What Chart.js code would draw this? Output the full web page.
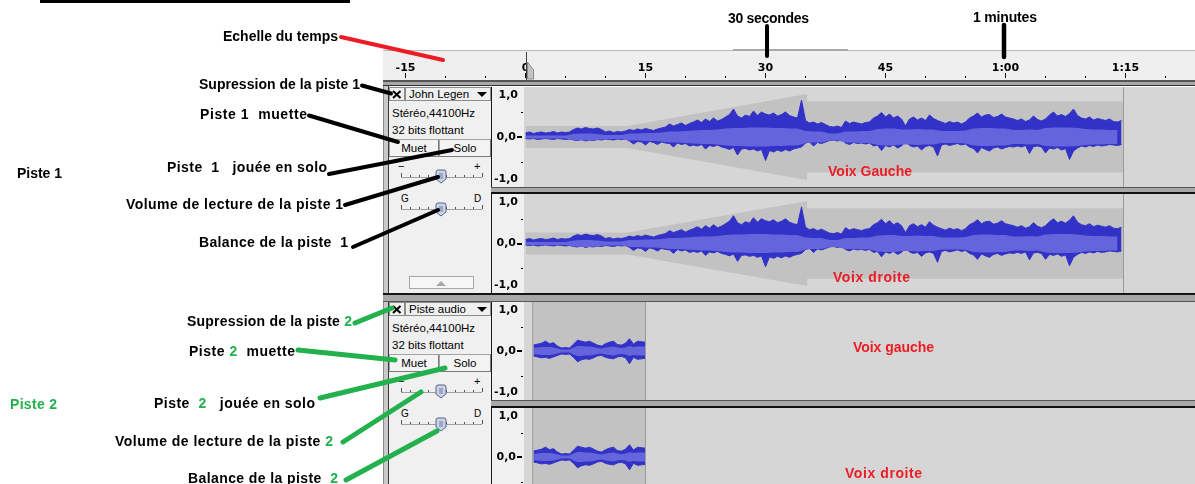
<!DOCTYPE html>
<html lang="fr"><head><meta charset="utf-8"><title>Audacity – pistes annotées</title>
<script src="https://cdn.jsdelivr.net/npm/chart.js@4.4.1/dist/chart.umd.min.js"></script>
<style>
html,body{margin:0;padding:0;background:#fff;}
body{position:relative;width:1195px;height:484px;overflow:hidden;font-family:"Liberation Sans",Arial,sans-serif;}
.a{position:absolute;box-sizing:border-box;}
canvas.c{position:absolute;display:block;z-index:1;}
.ui{font-size:11.5px;color:#000;white-space:nowrap;line-height:14px;}
.btn{background:#f3f3f3;border:1px solid #a4a4a4;border-right-color:#7a7a7a;border-bottom-color:#7a7a7a;text-align:center;font-size:11.5px;line-height:16px;}
#ann{position:absolute;left:0;top:0;z-index:10;overflow:visible;}
</style></head><body>
<svg id="ann" width="1195" height="484" xmlns="http://www.w3.org/2000/svg"></svg>
<script>
// ================= DATA =================
// time ruler (seconds)
const rulerTickValues = [-15,-10,-5,0,5,10,15,20,25,30,35,40,45,50,55,60,65,70,75,80];
const rulerTickLabels = ['-15','','','0','','','15','','','30','','','45','','','1:00','','','1:15',''];
// amplitude ruler
const ampAxisLabels = ['1,0','0,0','-1,0'];
const ampAxisMinor = [0.5,-0.5];

// Track 1 "John Legen" (both channels look the same)
const t1PeakStep = 0.5;   // s between peak samples
const t1PeakMax = [0.08,0.10,0.07,0.09,0.10,0.08,0.09,0.11,0.08,0.10,0.09,0.10,
 0.15,0.18,0.16,0.19,0.17,0.16,0.18,0.15,
 0.10,0.12,0.09,0.11,0.10,0.12,
 0.15,0.13,0.16,0.14,0.17,0.15,0.13,0.16,0.18,0.20,
 0.26,0.22,0.25,0.28,0.23,0.27,
 0.30,0.34,0.29,0.36,0.31,0.38,0.32,0.35,
 0.40,0.45,0.56,0.42,0.38,0.44,
 0.41,0.52,0.43,0.50,0.46,
 0.44,0.48,0.42,0.45,0.50,0.43,0.40,0.38,
 0.74,
 0.33,0.28,0.30,0.26,0.29,0.25,
 0.21,0.20,0.22,0.19,
 0.32,0.27,0.30,0.28,0.26,0.29,0.30,
 0.38,0.42,0.49,0.40,0.46,0.38,0.42,0.36,
 0.22,
 0.36,0.40,0.34,0.38,0.33,0.44,0.37,0.33,
 0.30,0.27,0.31,0.28,0.30,0.26,0.30,
 0.38,0.42,0.48,0.40,0.44,0.45,0.39,0.41,0.46,0.40,0.38,0.36,
 0.33,0.36,0.31,0.34,0.42,0.35,0.32,0.36,
 0.44,0.50,0.42,0.45,0.41,0.47,0.56,0.43,
 0.38,0.36,0.40,0.34,0.37,0.35,0.33,0.36,0.31,0.30,0.33];
const t1PeakMin = [-0.03,-0.04,-0.03,-0.05,-0.04,-0.03,-0.04,-0.05,-0.03,-0.04,-0.05,-0.04,
 -0.06,-0.07,-0.05,-0.08,-0.06,-0.07,-0.05,-0.06,
 -0.04,-0.05,-0.06,-0.04,-0.05,-0.04,
 -0.08,-0.14,-0.09,-0.10,-0.16,-0.09,-0.11,-0.15,-0.10,-0.12,
 -0.13,-0.20,-0.12,-0.15,-0.13,-0.18,
 -0.16,-0.18,-0.15,-0.24,-0.17,-0.19,-0.16,-0.20,
 -0.22,-0.25,-0.21,-0.36,-0.24,-0.23,
 -0.26,-0.24,-0.28,-0.25,-0.47,
 -0.27,-0.30,-0.26,-0.29,-0.25,-0.28,-0.24,-0.22,
 -0.20,
 -0.12,-0.10,-0.18,-0.11,-0.13,-0.10,
 -0.07,-0.06,-0.08,-0.06,
 -0.12,-0.15,-0.11,-0.13,-0.12,-0.14,-0.12,
 -0.18,-0.16,-0.27,-0.17,-0.20,-0.16,-0.22,-0.18,
 -0.08,
 -0.17,-0.20,-0.18,-0.26,-0.19,-0.17,-0.20,-0.38,
 -0.16,-0.14,-0.17,-0.15,-0.13,-0.16,-0.14,
 -0.20,-0.23,-0.32,-0.21,-0.25,-0.28,-0.22,-0.20,-0.24,-0.21,-0.19,-0.20,
 -0.18,-0.20,-0.17,-0.33,-0.19,-0.18,-0.20,-0.32,
 -0.22,-0.24,-0.21,-0.26,-0.23,-0.45,-0.28,-0.22,
 -0.18,-0.20,-0.17,-0.19,-0.16,-0.18,-0.17,-0.15,-0.16,-0.17,-0.15];
const t1RmsStep = 1;
const t1Rms = [0.03,0.03,0.03,0.03,0.03,0.03,
 0.06,0.07,0.07,0.06,
 0.04,0.04,0.04,
 0.07,0.07,0.08,0.08,0.09,
 0.11,0.11,0.12,
 0.13,0.14,0.14,0.15,
 0.17,0.18,0.18,0.19,0.19,
 0.19,0.18,0.18,0.17,0.17,
 0.12,0.11,0.11,
 0.07,0.07,
 0.11,0.11,0.12,0.12,
 0.16,0.17,0.17,0.15,
 0.15,0.16,0.15,0.15,
 0.12,0.12,0.12,0.13,
 0.17,0.18,0.18,0.17,0.17,
 0.14,0.14,0.15,0.14,
 0.18,0.19,0.19,0.19,0.18,
 0.16,0.15,0.15,0.14,0.14];
const t1EnvTimes  = [0, 12.7, 35.2, 35.2, 74.75];
const t1EnvLevels = [0.22, 0.22, 0.86, 0.71, 0.71];
const t1ClipEnd = 74.75;

// Track 2 "Piste audio"
const t2Start = 1.0, t2Step = 0.5;
const t2PeakMax = [0.12,0.14,0.16,0.20,0.15,0.17,0.10,0.06,0.07,0.06,0.14,0.22,0.20,0.18,0.20,0.16,0.12,0.10,0.15,0.18,0.20,0.13,0.12,0.16,0.25,0.14,0.20,0.19,0.18];
const t2PeakMin = [-0.10,-0.12,-0.14,-0.13,-0.15,-0.12,-0.09,-0.06,-0.07,-0.06,-0.13,-0.22,-0.18,-0.16,-0.17,-0.14,-0.10,-0.09,-0.13,-0.15,-0.16,-0.12,-0.11,-0.14,-0.26,-0.13,-0.17,-0.16,-0.15];
const t2Rms = [0.06,0.07,0.08,0.08,0.08,0.07,0.05,0.03,0.03,0.03,0.07,0.10,0.10,0.09,0.09,0.08,0.06,0.05,0.07,0.08,0.09,0.07,0.06,0.07,0.10,0.08,0.09,0.09,0.09];
const t2ClipStart = 0.9, t2ClipEnd = 15.0;

const trackNames = ['John Legen', 'Piste audio'];
const trackInfo = ['Stéréo,44100Hz', '32 bits flottant'];

// ================= LAYOUT / STYLE =================
const ZERO_X = 525.5, PX_PER_S = 8;
const PEAK = '#3232c8', RMS = '#6464dc', BAND = '#c2c2c2', WBG = '#d6d6d6', EDGE = '#9a9a9a';
const RULER_FONT = {family:'DejaVu Sans', weight:'bold', size:11};
Chart.defaults.font.family = 'DejaVu Sans';

function box(x,y,w,h,css,txt,cls){
  const d=document.createElement('div');
  d.className='a '+(cls||'');
  d.style.cssText=`left:${x}px;top:${y}px;width:${w}px;height:${h}px;`+(css||'');
  if(txt!==undefined) d.textContent=txt;
  document.body.appendChild(d); return d;
}
function mkCanvas(x,y,w,h){
  const c=document.createElement('canvas'); c.className='c';
  c.width=w; c.height=h; c.style.left=x+'px'; c.style.top=y+'px';
  c.style.width=w+'px'; c.style.height=h+'px';
  document.body.appendChild(c); return c;
}
const tOf = px => (px-ZERO_X)/PX_PER_S;

// ---------- static chrome ----------
box(40,0,310,3,'background:#000;');
box(383,50,812,1,'background:#b8b8b8;');
box(733,49,115,2,'background:#a9a9a9;');
box(383,80,812,6,'background:#a8a8a8;border-top:2px solid #555;border-bottom:1px solid #333;');
box(383,86,6,398,'background:#c9c9c9;border-left:1px solid #8c8c8c;border-right:1px solid #3a3a3a;');
box(389,86,102,207,'background:#f0f0f0;');
box(389,302,102,182,'background:#f0f0f0;');
box(383,293,812,9,'background:#a8a8a8;border-top:2px solid #151515;border-bottom:1px solid #555;');
box(491,187,704,7,'background:#a8a8a8;border-top:1px solid #555;border-bottom:2px solid #111;');
box(491,400,704,8,'background:#a8a8a8;border-top:1px solid #555;border-bottom:2px solid #111;');

[0,215].forEach((dy,k)=>{
  const T=87+dy;
  box(389,T,16,14,'background:#f0f0f0;border:1px solid #8c8c8c;');
  box(405,T,86,14,'background:#f0f0f0;border:1px solid #8c8c8c;');
  box(409,T,66,14,'',trackNames[k],'ui');
  box(392,T+19,98,14,'',trackInfo[0],'ui');
  box(392,T+36,98,14,'',trackInfo[1],'ui');
  box(389,T+52,50,18,'','Muet','btn');
  box(439,T+52,52,18,'','Solo','btn');
  box(398,T+73,10,12,'font-size:11px;line-height:12px;','−','ui');
  box(474,T+73,10,12,'font-size:11px;line-height:12px;','+','ui');
  box(401,T+106,10,12,'font-size:10px;line-height:12px;','G','ui');
  box(474,T+106,10,12,'font-size:10px;line-height:12px;','D','ui');
});
box(409,276,65,13,'background:#f6f6f6;border:1px solid #a8a8a8;');

// ---------- time ruler (Chart.js axis) ----------
const rulerChrome = {
  id:'rulerChrome',
  beforeDraw(ch){ const c=ch.ctx; c.save(); c.fillStyle='#efefef'; c.fillRect(0,0,ch.width,ch.height); c.restore(); },
  afterDraw(ch){
    const c=ch.ctx, x0=Math.round(ch.scales.x.getPixelForValue(0))+0.5;
    c.save();
    c.strokeStyle='#3c3c3c'; c.lineWidth=1;
    c.beginPath(); c.moveTo(x0,1); c.lineTo(x0,ch.height); c.stroke();
    c.fillStyle='#c4c4c4'; c.strokeStyle='#8a8a8a';
    c.beginPath(); c.moveTo(x0+1,11); c.lineTo(x0+7,19); c.lineTo(x0+7,28); c.lineTo(x0+1,28); c.closePath(); c.fill(); c.stroke();
    c.restore();
  }
};
new Chart(mkCanvas(383,51,812,29), {
  type:'line', data:{datasets:[]},
  options:{animation:false, responsive:false, events:[], layout:{padding:{bottom:2}},
    plugins:{legend:{display:false}, tooltip:{enabled:false}},
    scales:{
      x:{type:'linear', position:'top', min:tOf(383), max:tOf(1195), bounds:'data',
        afterBuildTicks(s){ s.ticks = rulerTickValues.map(v=>({value:v})); },
        afterFit(s){ s.height = 25; },
        ticks:{autoSkip:false, maxRotation:0, padding:-2, color:'#000', font:RULER_FONT,
          callback:(v)=>{ const i=rulerTickValues.indexOf(v); return i<0?'':rulerTickLabels[i]; }},
        grid:{drawOnChartArea:true, tickLength:3, color:'#000', lineWidth:1,
          tickColor:(c)=> (c.tick && c.tick.value%15===0) ? '#000' : 'rgba(0,0,0,0)'},
        border:{display:false}},
      y:{display:false, min:0, max:1}
    }},
  plugins:[rulerChrome]
});

// ---------- waveform channels ----------
const waveChrome = {
  id:'waveChrome',
  beforeDraw(ch){
    const c=ch.ctx, a=ch.chartArea;
    c.save();
    c.fillStyle='#f0f0f0'; c.fillRect(0,0,a.left,ch.height);
    c.fillStyle=WBG; c.fillRect(a.left,0,ch.width-a.left,ch.height);
    c.fillStyle='#1a1a1a'; c.fillRect(0,0,1,ch.height);
    c.restore();
  },
  afterDraw(ch){
    const c=ch.ctx, a=ch.chartArea, y=ch.scales.y;
    c.save();
    c.font='bold 11px "DejaVu Sans"'; c.fillStyle='#000'; c.textAlign='right'; c.textBaseline='middle';
    c.fillText(ampAxisLabels[0], a.left-6, y.getPixelForValue(1)+8);
    c.fillText(ampAxisLabels[1], a.left-8, y.getPixelForValue(0));
    c.fillText(ampAxisLabels[2], a.left-6, y.getPixelForValue(-1)-8);
    c.fillRect(a.left-7, Math.round(y.getPixelForValue(0))-1, 5, 2);
    ampAxisMinor.forEach(v=>c.fillRect(a.left-3, Math.round(y.getPixelForValue(v)), 2, 1));
    c.restore();
  }
};
function pts(times, vals){ return vals.map((v,i)=>({x:times[i], y:v})); }
function grid(start, step, n){ return Array.from({length:n},(_,i)=>start+i*step); }
function line(data, extra){ return Object.assign({data, pointRadius:0, borderWidth:1, borderColor:'rgba(0,0,0,0)', fill:false, tension:0}, extra); }

function waveChart(x,y,w,h,s){
  const ds=[
    line(s.envTop,{fill:'+1', backgroundColor:BAND, order:4}),
    line(s.envBot,{order:4}),
    line(s.peakTop,{fill:'+1', backgroundColor:PEAK, borderColor:PEAK, order:3}),
    line(s.peakBot,{borderColor:PEAK, order:3}),
    line(s.rmsTop,{fill:'+1', backgroundColor:RMS, order:2}),
    line(s.rmsBot,{order:2})
  ];
  s.edges.forEach(e=>ds.push(line([{x:e,y:-1},{x:e,y:1}],{borderColor:EDGE, order:1})));
  new Chart(mkCanvas(x,y,w,h), {
    type:'line', data:{datasets:ds},
    options:{animation:false, responsive:false, events:[], layout:{padding:0},
      plugins:{legend:{display:false}, tooltip:{enabled:false}},
      scales:{
        x:{type:'linear', display:false, min:tOf(524), max:tOf(1195)},
        y:{min:-1, max:1, afterFit(sc){ sc.width=33; }, ticks:{display:false}, grid:{display:false}, border:{display:false}}
      }},
    plugins:[waveChrome]
  });
}

const t1PeakT = grid(0, t1PeakStep, t1PeakMax.length);
const t1RmsT  = grid(0, t1RmsStep, t1Rms.length);
const track1 = {
  envTop: pts(t1EnvTimes, t1EnvLevels),
  envBot: pts(t1EnvTimes, t1EnvLevels.map(v=>-v)),
  peakTop: pts(t1PeakT, t1PeakMax),
  peakBot: pts(t1PeakT, t1PeakMin),
  rmsTop: pts(t1RmsT, t1Rms),
  rmsBot: pts(t1RmsT, t1Rms.map(v=>-v)),
  edges: [t1ClipEnd]
};
const t2T = grid(t2Start, t2Step, t2PeakMax.length);
const track2 = {
  envTop: pts([t2ClipStart,t2ClipEnd],[1,1]),
  envBot: pts([t2ClipStart,t2ClipEnd],[-1,-1]),
  peakTop: pts(t2T, t2PeakMax),
  peakBot: pts(t2T, t2PeakMin),
  rmsTop: pts(t2T, t2Rms),
  rmsBot: pts(t2T, t2Rms.map(v=>-v)),
  edges: [t2ClipStart, t2ClipEnd]
};
waveChart(491,87,704,100,track1);
waveChart(491,194,704,99,track1);
waveChart(491,302,704,98,track2);
waveChart(491,408,704,98,track2);

// ---------- SVG: control glyphs + annotations ----------
const BLACK='#000', GREEN='#22b14c', RED='#ed1c24';
let s='';
[0,215].forEach((dy,k)=>{
  const T=87+dy;
  s+=`<line x1="393" y1="${T+4}" x2="400.5" y2="${T+11}" stroke="#000" stroke-width="2"/>`;
  s+=`<line x1="400.5" y1="${T+4}" x2="393" y2="${T+11}" stroke="#000" stroke-width="2"/>`;
  s+=`<polygon points="477,${T+5} 487,${T+5} 482,${T+10}" fill="#000"/>`;
  [[177+dy,170+dy],[209+dy,203+dy]].forEach(([ly,tt])=>{
    s+=`<line x1="401" y1="${ly+0.5}" x2="482" y2="${ly+0.5}" stroke="#a0a0a0" stroke-width="1"/>`;
    for(let i=0;i<10;i++){ const xx=401.5+i*9; const hh=(i===0||i===9)?4:2;
      s+=`<line x1="${xx}" y1="${ly-hh}" x2="${xx}" y2="${ly}" stroke="#555" stroke-width="1"/>`; }
    const cx=441;
    s+=`<path d="M${cx-5} ${tt+2} Q${cx-5} ${tt} ${cx-3} ${tt} L${cx+3} ${tt} Q${cx+5} ${tt} ${cx+5} ${tt+2} L${cx+5} ${tt+9} L${cx} ${tt+13} L${cx-5} ${tt+9} Z" fill="#ccd3e4" stroke="#56648f" stroke-width="1"/>`;
    [4,6,8].forEach(o=>s+=`<line x1="${cx-2}" y1="${tt+o}" x2="${cx+2}" y2="${tt+o}" stroke="#56648f" stroke-width="0.8"/>`);
  });
});
s+=`<polygon points="436,286 446,286 441,281" fill="#a8a8a8"/>`;

const annLines=[
  [341,37,443,60,RED,4],
  [767,26,767,56,BLACK,4],[1004,25,1004,57,BLACK,4.5],
  [362,85.5,391,93.5,BLACK,4],[309,115.5,398,142,BLACK,4],[329,174,452,150,BLACK,4],
  [345,205,438,177,BLACK,4],[353,247,438,210,BLACK,4],
  [355,323,392,308,GREEN,5],[298,350,395,360,GREEN,5],[320,398,445,368,GREEN,5],
  [343,442,421,392,GREEN,5],[346,480,437,431,GREEN,5]
];
annLines.forEach(([x1,y1,x2,y2,c,w])=>s+=`<line x1="${x1}" y1="${y1}" x2="${x2}" y2="${y2}" stroke="${c}" stroke-width="${w}" stroke-linecap="round"/>`);

const annTexts=[
  [[['Echelle du temps',BLACK]],223,40.5,115],
  [[['30 secondes',BLACK]],728,22.5,81],
  [[['1 minutes',BLACK]],973,21.7,64],
  [[['Supression de la piste 1',BLACK]],199,89.3,161],
  [[['Piste 1  muette',BLACK]],200,119,107],
  [[['Piste  1   jouée en solo',BLACK]],167,171.7,160],
  [[['Volume de lecture de la piste 1',BLACK]],126,209.3,217],
  [[['Balance de la piste  1',BLACK]],199,247.3,149],
  [[['Piste 1',BLACK]],17,177.7,45],
  [[['Voix Gauche',RED]],828,176,84],
  [[['Voix droite',RED]],833,281.7,77],
  [[['Supression de la piste ',BLACK],['2',GREEN]],187,326,165],
  [[['Piste ',BLACK],['2',GREEN],['  muette',BLACK]],189,356,106],
  [[['Piste  ',BLACK],['2',GREEN],['   jouée en solo',BLACK]],154,407.7,161],
  [[['Volume de lecture de la piste ',BLACK],['2',GREEN]],115,446,218],
  [[['Balance de la piste  ',BLACK],['2',GREEN]],188,482.7,150],
  [[['Piste 2',GREEN]],10,409.3,47],
  [[['Voix gauche',RED]],853,351.7,81],
  [[['Voix droite',RED]],845,478,77]
];
annTexts.forEach(([parts,x,y,w])=>{
  s+=`<text x="${x}" y="${y}" textLength="${w}" lengthAdjust="spacing" xml:space="preserve" style="white-space:pre" font-family="Liberation Sans, Arial, sans-serif" font-weight="bold" font-size="14">`+
     parts.map(p=>`<tspan fill="${p[1]}">${p[0]}</tspan>`).join('')+`</text>`;
});
const svg=document.getElementById('ann');
svg.innerHTML=s;
document.body.appendChild(svg);
</script>
</body></html>
